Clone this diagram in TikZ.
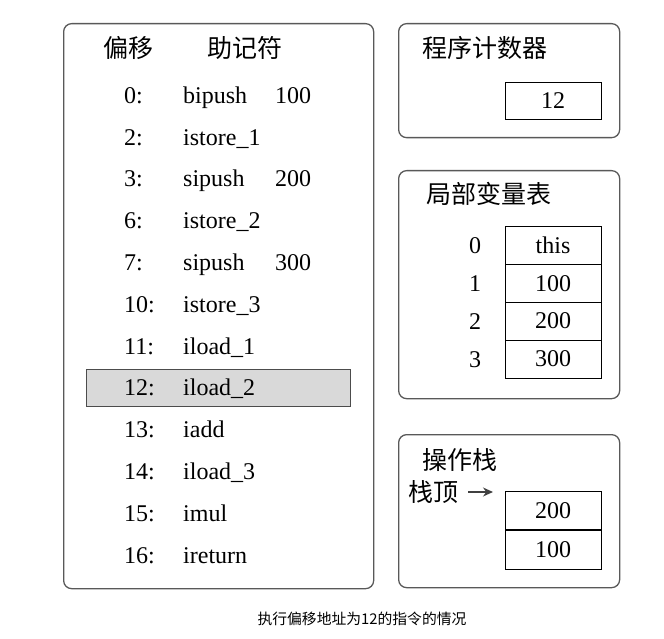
\documentclass[tikz,border=0pt]{standalone}
\usepackage{fontspec}
\setmainfont{Liberation Serif}
\newfontfamily\cjk{Noto Sans CJK SC}
\usetikzlibrary{arrows.meta,positioning}

\begin{document}
\begin{tikzpicture}[
    x=1pt, y=-1pt,
    panel/.style={draw=black!65, line width=1.3pt, rounded corners=8pt,
                  anchor=north west, inner sep=0pt},
    txt/.style={font=\fontsize{24}{27}\selectfont, inner sep=0pt,
                text height=16.5pt, text depth=0pt},
    ttl/.style={font=\cjk\fontsize{25}{28}\selectfont, inner sep=0pt,
                text height=19pt, text depth=0pt},
    cell/.style={draw, line width=0.8pt, minimum width=96pt,
                 minimum height=38pt, inner sep=0pt,
                 font=\fontsize{24}{27}\selectfont},
    cur/.style={draw=black!70, line width=0.9pt, fill=black!15,
                anchor=north west, inner sep=0pt}
  ]
  \useasboundingbox (0,0) rectangle (664,639);

  % panels
  \node[panel, minimum width=310pt, minimum height=565pt] (code) at (63,23) {};
  \node[panel, minimum width=221pt, minimum height=114pt] (pcbox) at (398,23) {};
  \node[panel, minimum width=221pt, minimum height=228pt] (lvbox) at (398,170) {};
  \node[panel, minimum width=221pt, minimum height=153pt] (opbox) at (398,434) {};

  % current instruction
  \node[cur, minimum width=264pt, minimum height=37pt] (curins) at (86,369) {};

  % header row
  \node[ttl] (hoff) at (128,48) {偏移};
  \node[ttl] (hmn) at (245,48) {助记符};

  % bytecode
  \foreach \r/\off/\mn/\arg in {0/0:/bipush/100, 1/2:/istore\_1/,
      2/3:/sipush/200, 3/6:/istore\_2/, 4/7:/sipush/300,
      5/10:/istore\_3/, 6/11:/iload\_1/, 7/12:/iload\_2/, 8/13:/iadd/,
      9/14:/iload\_3/, 10/15:/imul/, 11/16:/ireturn/} {
    \node[txt, anchor=west] (off\r) at (124, 95+41.8*\r) {\off};
    \node[txt, anchor=west] (mn\r) at (183, 95+41.8*\r) {\mn};
    \node[txt, anchor=west] (arg\r) at (275, 95+41.8*\r) {\arg};
  }

  % program counter
  \node[ttl, anchor=west] (pctitle) at (422,48) {程序计数器};
  \node[cell, minimum height=37pt] (pc) at (553,100.5) {12};

  % local variables
  \node[ttl, anchor=west] (lvtitle) at (426,194) {局部变量表};
  \foreach \i/\v in {0/this, 1/100, 2/200, 3/300} {
    \node[cell] (lv\i) at (553, 245.5+37.8*\i) {\v};
    \node[txt] (idx\i) at (475, 245.5+37.8*\i) {\i};
  }

  % operand stack
  \node[ttl, anchor=west] (optitle) at (422,460) {操作栈};
  \node[ttl, anchor=west] (top) at (408,492) {栈顶};
  \node[cell, minimum height=38.5pt] (s0) at (553,510.5) {200};
  \node[cell, minimum height=38.5pt, below=0pt of s0] (s1) {100};
  \coordinate (tip) at (493,492);
  \draw[black!75, line width=1.4pt, -{Stealth[length=10pt,width=9pt]}]
    ([xshift=10pt]top.east) -- (tip);

  % caption
  \node[font=\cjk\fontsize{14.8}{17}\selectfont, inner sep=0pt] (cap)
    at (362,619) {执行偏移地址为12的指令的情况};
\end{tikzpicture}
\end{document}
